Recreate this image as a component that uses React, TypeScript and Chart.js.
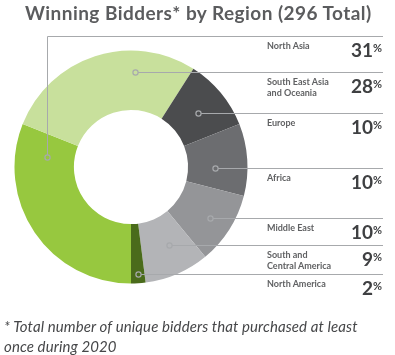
import React, { useEffect, useRef } from "react";
import { Chart, registerables } from "chart.js";

Chart.register(...registerables);

const TITLE = "Winning Bidders* by Region (296 Total)";
const FOOTNOTE_1 = "* Total number of unique bidders that purchased at least";
const FOOTNOTE_2 = "once during 2020";

const regions = [
  "North Asia",
  "South East Asia|and Oceania",
  "Europe",
  "Africa",
  "Middle East",
  "South and|Central America",
  "North America",
];
const shares = [31, 28, 10, 10, 10, 9, 2];
const colors = ["#97c83f", "#c8e09c", "#4b4c4e", "#6c6d70", "#949598", "#b3b4b7", "#4a6b1b"];

// where each leader dot sits inside its slice (fraction along the arc, fraction across the ring)
const anchorT = [0.87, 0.7, 0.53, 0.61, 0.51, 0.43, 0.46];
const anchorR = [0.47, 0.64, 0.49, 0.45, 0.62, 0.5, 0.85];
const anchorElbow = [true, false, false, false, false, false, false];

const LINE_END = 383;
const LINE_COLOR = "#a7a9ac";

export default function App() {
  const canvasRef = useRef<HTMLCanvasElement | null>(null);
  const rowRefs = useRef<(HTMLDivElement | null)[]>([]);

  useEffect(() => {
    document.body.style.margin = "0";
    const canvas = canvasRef.current;
    if (!canvas) return;

    const leaderPlugin = {
      id: "leaders",
      afterDraw(chart: any) {
        const ctx = chart.ctx;
        const meta = chart.getDatasetMeta(0);
        ctx.save();
        ctx.strokeStyle = LINE_COLOR;
        ctx.lineWidth = 1;
        meta.data.forEach((el: any, i: number) => {
          const p = el.getProps(["x", "y", "startAngle", "endAngle", "innerRadius", "outerRadius"], true);
          const a = p.startAngle + anchorT[i] * (p.endAngle - p.startAngle);
          const r = p.innerRadius + anchorR[i] * (p.outerRadius - p.innerRadius);
          const px = Math.round(p.x + Math.cos(a) * r) + 0.5;
          const py = Math.round(p.y + Math.sin(a) * r) + 0.5;
          const dr = 2.6;
          let rowY = py;
          ctx.beginPath();
          if (anchorElbow[i]) {
            rowY = Math.round(p.y - p.outerRadius - 15) + 0.5;
            ctx.moveTo(px, py - dr);
            ctx.lineTo(px, rowY);
            ctx.lineTo(LINE_END, rowY);
          } else {
            ctx.moveTo(px + dr, py);
            ctx.lineTo(LINE_END, py);
          }
          ctx.stroke();
          ctx.beginPath();
          ctx.arc(px, py, dr, 0, Math.PI * 2);
          ctx.lineWidth = 1.2;
          ctx.stroke();
          ctx.lineWidth = 1;
          const row = rowRefs.current[i];
          if (row) row.style.top = `${Math.floor(rowY)}px`;
        });
        ctx.restore();
      },
    };

    const chart = new Chart(canvas, {
      type: "doughnut",
      data: {
        labels: regions.map((r) => r.replace("|", " ")),
        datasets: [
          {
            data: shares,
            backgroundColor: colors,
            borderWidth: 0,
          },
        ],
      },
      options: {
        responsive: false,
        animation: false,
        rotation: 180,
        cutout: "49%",
        layout: { padding: { left: 14.5, right: 147.5, top: 50.5, bottom: 71.5 } },
        plugins: {
          legend: { display: false },
          tooltip: { enabled: false },
          title: { display: false },
        },
      },
      plugins: [leaderPlugin],
    });
    return () => chart.destroy();
  }, []);

  return (
    <div style={{ position: "relative", width: 395, height: 355, background: "#fff", overflow: "hidden" }}>
      <canvas ref={canvasRef} width={395} height={355} style={{ position: "absolute", left: 0, top: 0 }} />
      <div
        style={{
          position: "absolute",
          left: 25,
          top: 1,
          font: "700 19px Lato, 'Open Sans', sans-serif",
          color: "#5b5c5e",
          whiteSpace: "nowrap",
          letterSpacing: "0.45px",
        }}
      >
        {TITLE}
      </div>
      {regions.map((name, i) => (
        <div
          key={i}
          ref={(d) => {
            rowRefs.current[i] = d;
          }}
          style={{ position: "absolute", left: 267, top: 0, width: 116, height: 26 }}
        >
          <div
            style={{
              position: "absolute",
              left: 0,
              top: 4,
              font: "700 9px Lato, 'Open Sans', sans-serif",
              lineHeight: "11px",
              color: "#606163",
              whiteSpace: "nowrap",
            }}
          >
            {name.split("|").map((l, k) => (
              <div key={k}>{l}</div>
            ))}
          </div>
          <div
            style={{
              position: "absolute",
              right: 1,
              top: 4,
              font: "700 19px Lato, 'Open Sans', sans-serif",
              lineHeight: "19px",
              color: "#3f4042",
              whiteSpace: "nowrap",
            }}
          >
            {shares[i]}
            <span
              style={{
                display: "inline-block",
                fontSize: 11,
                lineHeight: "11px",
                verticalAlign: "top",
                position: "relative",
                top: 2,
              }}
            >
              %
            </span>
          </div>
        </div>
      ))}
      <div
        style={{
          position: "absolute",
          left: 4,
          top: 316,
          font: "italic 400 15px Lato, 'Open Sans', sans-serif",
          lineHeight: "20px",
          color: "#464749",
          whiteSpace: "nowrap",
          letterSpacing: "0.1px",
        }}
      >
        <div>{FOOTNOTE_1}</div>
        <div>{FOOTNOTE_2}</div>
      </div>
    </div>
  );
}
